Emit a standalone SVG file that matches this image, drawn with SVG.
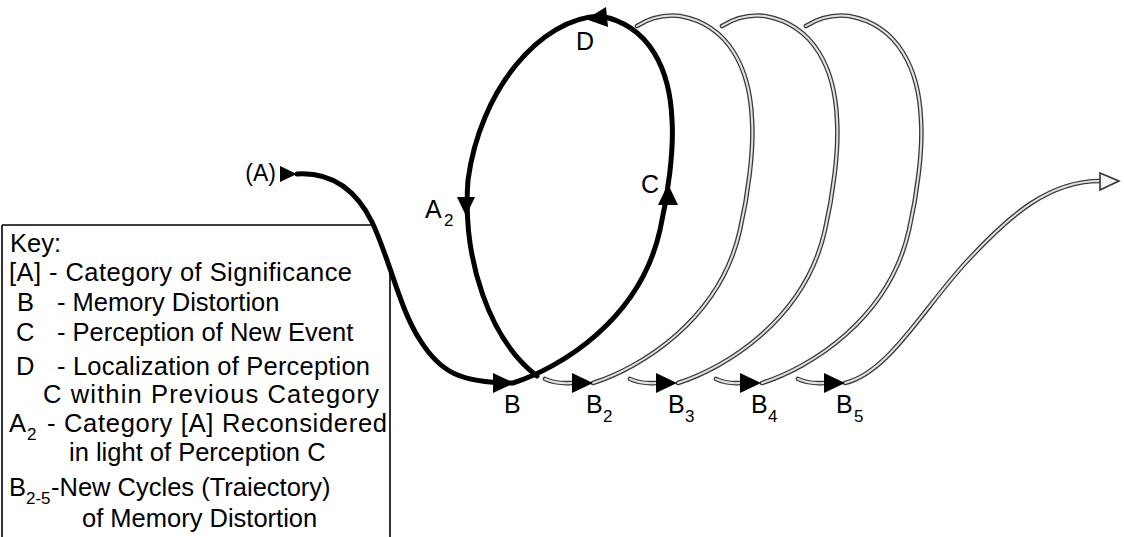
<svg xmlns="http://www.w3.org/2000/svg" xmlns:xlink="http://www.w3.org/1999/xlink" width="1124" height="537" viewBox="0 0 1124 537">
<style>
text{font-family:"Liberation Sans",Arial,sans-serif;fill:#000}
.lbl{font-size:25px}
.sub{font-size:17px}
.key{font-size:25.5px}
.ksub{font-size:17px}
.blk{fill:none;stroke:#000;stroke-width:5;stroke-linecap:round}
.go{fill:none;stroke:#3a3a3a;stroke-width:4.6;stroke-linecap:round}
.gi{fill:none;stroke:#e2e2e2;stroke-width:2;stroke-linecap:round}
.box{stroke:#000;stroke-width:1.6;fill:none}
</style>
<defs>
<path id="tri" d="M0,-10 L21,0 L0,10 Z" fill="#000"/>
<path id="gloop" d="M 513 383 C 560 368 640 320 660 230 C 668 195 674 150 672 120 C 670 70 650 25 600 16 C 582 14 568 19 557 26"/>
</defs>
<rect width="1124" height="537" fill="#fff"/>

<g id="key">
<path class="box" d="M2,225 L373,225 M2,225 L2,537 M390,273 L390,537"/>
<text class="key" x="10" y="252">Key:</text>
<text class="key" x="9" y="281" textLength="343">[A] - Category of Significance</text>
<text class="key" x="17" y="311">B</text>
<text class="key" x="57" y="311">- Memory Distortion</text>
<text class="key" x="16" y="341">C</text>
<text class="key" x="57" y="341">- Perception of New Event</text>
<text class="key" x="16" y="375">D</text>
<text class="key" x="57" y="375" textLength="313">- Localization of Perception</text>
<text class="key" x="43" y="403" textLength="336">C within Previous Category</text>
<text class="key" x="9" y="432">A</text>
<text class="ksub" x="27" y="440">2</text>
<text class="key" x="47" y="432" textLength="340">- Category [A] Reconsidered</text>
<text class="key" x="69" y="461">in light of Perception C</text>
<text class="key" x="9" y="496">B</text>
<text class="ksub" x="26" y="504">2-5</text>
<text class="key" x="51" y="496">-New Cycles (Traiectory)</text>
<text class="key" x="82" y="527">of Memory Distortion</text>
</g>

<g id="connectors">
<g id="gray-cycles">
<use xlink:href="#gloop" href="#gloop" class="go" transform="translate(249,0)"/>
<use xlink:href="#gloop" href="#gloop" class="gi" transform="translate(249,0)"/>
<use xlink:href="#gloop" href="#gloop" class="go" transform="translate(165,0)"/>
<use xlink:href="#gloop" href="#gloop" class="gi" transform="translate(165,0)"/>
<use xlink:href="#gloop" href="#gloop" class="go" transform="translate(80,0)"/>
<use xlink:href="#gloop" href="#gloop" class="gi" transform="translate(80,0)"/>
<path class="go" d="M 545 379 Q 556 384 572 383 M 630 379 Q 641 384 656 383 M 716 379 Q 727 384 740 383 M 798 379 Q 809 384 824 383 M 845 383 C 890 372 925 305 970 258 C 1010 215 1050 180 1102 181"/>
<path class="gi" d="M 545 379 Q 556 384 572 383 M 630 379 Q 641 384 656 383 M 716 379 Q 727 384 740 383 M 798 379 Q 809 384 824 383 M 845 383 C 890 372 925 305 970 258 C 1010 215 1050 180 1102 181"/>
<polygon points="1100,173 1119,181 1100,190" fill="#f4f4f4" stroke="#333" stroke-width="1.6" stroke-linejoin="miter"/>
</g>
<path id="main-path" class="blk" d="M 297 174 C 330 172 355 188 372 222 C 390 260 400 310 420 340 C 440 372 460 383 513 383 C 560 368 640 320 660 230 C 668 195 674 150 672 120 C 670 70 650 25 600 16 C 540 18 480 90 468 180 C 462 260 490 340 537 376"/>
</g>

<g id="node-A">
<text class="lbl" x="276" y="181" text-anchor="end" style="font-size:23px">(A)</text>
<use xlink:href="#tri" href="#tri" transform="translate(280,174) scale(0.8)"/>
</g>
<g id="node-B">
<use xlink:href="#tri" href="#tri" transform="translate(493,383)"/>
<text class="lbl" x="504" y="413">B</text>
</g>
<g id="node-C">
<use xlink:href="#tri" href="#tri" transform="translate(668,205) rotate(-90)"/>
<text class="lbl" x="641" y="193">C</text>
</g>
<g id="node-D">
<use xlink:href="#tri" href="#tri" transform="translate(607,17) rotate(174)"/>
<text class="lbl" x="576" y="50">D</text>
</g>
<g id="node-A2">
<use xlink:href="#tri" href="#tri" transform="translate(466,197) rotate(90) scale(0.9)"/>
<text class="lbl" x="425" y="218">A</text>
<text class="sub" x="444" y="226">2</text>
</g>
<g id="node-B2">
<use xlink:href="#tri" href="#tri" transform="translate(572,383)"/>
<text class="lbl" x="586" y="413">B</text>
<text class="sub" x="603" y="422">2</text>
</g>
<g id="node-B3">
<use xlink:href="#tri" href="#tri" transform="translate(656,383)"/>
<text class="lbl" x="668" y="413">B</text>
<text class="sub" x="685" y="422">3</text>
</g>
<g id="node-B4">
<use xlink:href="#tri" href="#tri" transform="translate(740,383)"/>
<text class="lbl" x="751" y="413">B</text>
<text class="sub" x="768" y="422">4</text>
</g>
<g id="node-B5">
<use xlink:href="#tri" href="#tri" transform="translate(824,383)"/>
<text class="lbl" x="836" y="413">B</text>
<text class="sub" x="854" y="422">5</text>
</g>
</svg>
